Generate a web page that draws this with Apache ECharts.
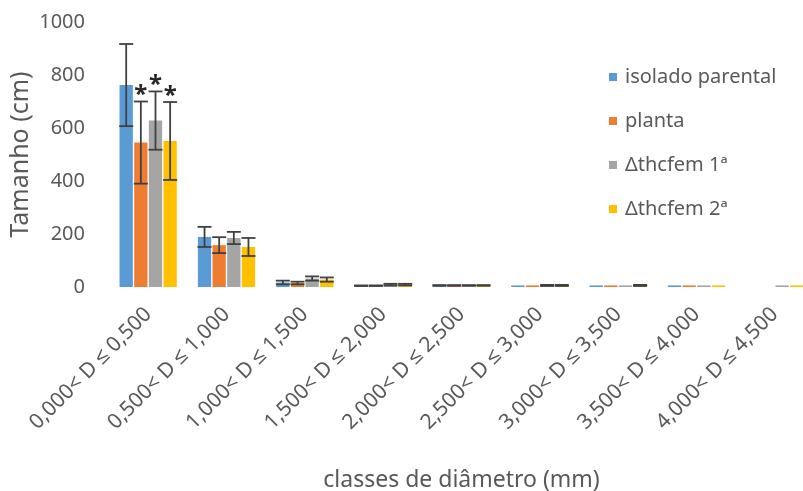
<!DOCTYPE html>
<html lang="pt">

<head>
    <meta charset="UTF-8">
    <title>Tamanho por classe de diâmetro</title>
    <style>
        * {
            padding: 0;
            margin: 0;
        }
    </style>
</head>

<body>
    <div id="chart" style="width: 803px; height: 491px;"></div>
    <script src="https://cdn.jsdelivr.net/npm/echarts@6/dist/echarts.min.js"></script>
    <script>
        let mychart = echarts.init(document.getElementById('chart'))

        const categorias = ['0,000< D ≤ 0,500', '0,500< D ≤ 1,000', '1,000< D ≤ 1,500', '1,500< D ≤ 2,000',
            '2,000< D ≤ 2,500', '2,500< D ≤ 3,000', '3,000< D ≤ 3,500', '3,500< D ≤ 4,000', '4,000< D ≤ 4,500']
        const nomes = ['isolado parental', 'planta', 'Δthcfem 1ª', 'Δthcfem 2ª']
        const cores = ['#5B9BD5', '#ED7D31', '#A5A5A5', '#FFC000']
        const ticksY = ['0', '200', '400', '600', '800', '1000']

        const isolado = [762, 189, 17, 5, 6, 6, 6, 6, 0]
        const planta = [545, 158, 15, 5, 6, 6, 6, 6, 0]
        const thcfem1 = [628, 185, 32, 9, 6, 6, 6, 6, 6]
        const thcfem2 = [551, 151, 28, 9, 6, 6, 6, 6, 6]

        const errIsolado = [155, 38, 7, 1, 1, 0, 0, 0, 0]
        const errPlanta = [155, 30, 5, 1, 1, 0, 0, 0, 0]
        const errThcfem1 = [110, 23, 8, 3, 1, 2, 0, 0, 0]
        const errThcfem2 = [147, 34, 8, 3, 1, 2, 2, 0, 0]

        // asteriscos de significância (só na primeira classe)
        const sigIsolado = ['', '', '', '', '', '', '', '', '']
        const sigPlanta = ['*', '', '', '', '', '', '', '', '']
        const sigThcfem1 = ['*', '', '', '', '', '', '', '', '']
        const sigThcfem2 = ['*', '', '', '', '', '', '', '', '']

        const valores = [isolado, planta, thcfem1, thcfem2]
        const erros = [errIsolado, errPlanta, errThcfem1, errThcfem2]
        const sigs = [sigIsolado, sigPlanta, sigThcfem1, sigThcfem2]

        const fonte = '"Noto Sans", sans-serif'
        const cinza = '#595959'
        const LARG = 0.17 // largura da barra em fração da categoria
        const GAP = 0.1   // espaço entre barras em fração da barra

        // dados das barras de erro: [categoria, valor, erro, série]
        const dadosErro = []
        const estrelas = []
        valores.forEach(function(serie, s) {
            serie.forEach(function(v, i) {
                dadosErro.push([i, v, erros[s][i], s])
                estrelas.push(sigs[s][i])
            })
        })

        function desenhaErro(params, api) {
            const i = api.value(0)
            const v = api.value(1)
            const e = api.value(2)
            const s = api.value(3)
            const banda = api.size([1, 0])[0]
            const w = banda * LARG
            const g = w * GAP
            const total = 4 * w + 3 * g
            const cx = api.coord([i, 0])[0] - total / 2 + s * (w + g) + w / 2
            const topo = api.coord([i, v + e])[1]
            const base = api.coord([i, Math.max(v - e, 0)])[1]
            const cap = 7
            const estilo = { stroke: '#404040', lineWidth: 1.8 }
            const filhos = []
            if (e > 0) {
                filhos.push({ type: 'line', shape: { x1: cx, y1: topo, x2: cx, y2: base }, style: estilo })
                filhos.push({ type: 'line', shape: { x1: cx - cap, y1: topo, x2: cx + cap, y2: topo }, style: estilo })
                filhos.push({ type: 'line', shape: { x1: cx - cap, y1: base, x2: cx + cap, y2: base }, style: estilo })
            }
            const est = estrelas[params.dataIndex]
            if (est) {
                filhos.push({
                    type: 'text',
                    style: {
                        text: est, x: cx, y: topo - 6, align: 'center', verticalAlign: 'middle',
                        fill: '#262626', font: 'bold 24px ' + fonte
                    }
                })
            }
            return { type: 'group', children: filhos }
        }

        const series = nomes.map(function(nome, s) {
            return {
                name: nome,
                type: 'bar',
                barWidth: (LARG * 100) + '%',
                barGap: (GAP * 100) + '%',
                itemStyle: { color: cores[s] },
                data: valores[s]
            }
        })
        series.push({
            type: 'custom',
            renderItem: desenhaErro,
            encode: { x: 0, y: 1 },
            z: 10,
            silent: true,
            data: dadosErro
        })

        let options = {
            animation: false,
            textStyle: { fontFamily: fonte },
            grid: {
                left: 109,
                right: -11,
                top: 22,
                bottom: 204,
                outerBoundsMode: 'none',
                containLabel: false
            },
            legend: {
                orient: 'vertical',
                left: 604,
                top: 62,
                icon: 'rect',
                itemWidth: 8,
                itemHeight: 8,
                itemGap: 24,
                data: nomes,
                textStyle: { fontSize: 20, color: cinza, fontFamily: fonte, padding: [0, 0, 0, 3] }
            },
            xAxis: {
                type: 'category',
                data: categorias,
                name: 'classes de diâmetro (mm)',
                nameLocation: 'middle',
                nameGap: 182,
                nameMoveOverlap: false,
                nameTextStyle: { fontSize: 23, color: cinza, fontFamily: fonte },
                axisLine: { show: false },
                axisTick: { show: false },
                axisLabel: {
                    interval: 0,
                    rotate: 45,
                    margin: 24,
                    fontSize: 21,
                    color: cinza,
                    fontFamily: fonte
                }
            },
            yAxis: {
                type: 'value',
                min: 0,
                max: 1000,
                interval: 200,
                name: 'Tamanho (cm)',
                nameLocation: 'middle',
                nameGap: 76,
                nameMoveOverlap: false,
                nameTextStyle: { fontSize: 25, color: cinza, fontFamily: fonte },
                axisLine: { show: false },
                axisTick: { show: false },
                splitLine: { show: false },
                axisLabel: {
                    fontSize: 20,
                    color: cinza,
                    margin: 24,
                    fontFamily: fonte,
                    formatter: function(v) { return ticksY[Math.round(v / 200)] }
                }
            },
            series: series
        }

        mychart.setOption(options);
    </script>
</body>

</html>
